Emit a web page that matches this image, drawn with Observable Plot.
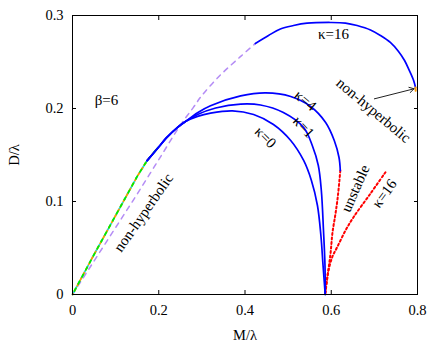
<!DOCTYPE html>
<html><head><meta charset="utf-8">
<script src="https://cdn.jsdelivr.net/npm/d3@7"></script>
<script src="https://cdn.jsdelivr.net/npm/@observablehq/plot@0.6"></script>
<style>body{margin:0;background:#fff} svg text{font-family:"Liberation Serif","Times New Roman",serif !important;}</style>
</head><body><div id="chart"></div>
<script>
const xTicks = [0, 0.2, 0.4, 0.6, 0.8];
const yTicks = [0, 0.1, 0.2, 0.3];

// shared stable (hyperbolic) start of the small-kappa branches
const sharedStart = [[0.173,0.144],[0.197,0.157],[0.220,0.1695],[0.243,0.1795],[0.262,0.1860]];
const kappa0 = [[0.290,0.1915],[0.320,0.1950],[0.371,0.1975],[0.420,0.1935],[0.466,0.1828],[0.506,0.1656],[0.536,0.1441],[0.554,0.1226],[0.568,0.0957],[0.576,0.0634],[0.581,0.0312],[0.586,0]];
const kappa1 = [[0.290,0.1935],[0.332,0.2005],[0.390,0.2048],[0.436,0.2038],[0.489,0.1957],[0.536,0.1796],[0.556,0.1602],[0.570,0.1387],[0.577,0.1118],[0.582,0.0688],[0.5855,0.031],[0.586,0]];
const kappa4 = [[0.290,0.1955],[0.320,0.2030],[0.390,0.2135],[0.448,0.2167],[0.506,0.2129],[0.552,0.2022],[0.587,0.185],[0.607,0.1656],[0.618,0.1473],[0.621,0.1333]];
const kappa16 = [[0.424,0.2699],[0.4545,0.2785],[0.482,0.2855],[0.5125,0.2892],[0.544,0.2917],[0.598,0.2925],[0.633,0.2919],[0.660,0.2892],[0.691,0.2844],[0.714,0.2785],[0.737,0.271],[0.756,0.2613],[0.770,0.2516],[0.781,0.2409],[0.791,0.2301],[0.7954,0.2226]];
const kappa16NonHypEnd = [[0.7954,0.2226],[0.7958,0.219]];
const kappa16NonHyp = [[0,0],[0.05,0.036],[0.1,0.072],[0.15,0.108],[0.2,0.145],[0.25,0.182],[0.28,0.201],[0.30,0.214],[0.343,0.236],[0.39,0.256],[0.424,0.2699]];
const smallKappaNonHyp = [[0,0],[0.05,0.043],[0.1,0.085],[0.15,0.127],[0.173,0.144],[0.2,0.159]];
const unstable4 = [[0.621,0.1333],[0.6155,0.1065],[0.6099,0.0871],[0.6029,0.0667],[0.5983,0.0441],[0.5925,0.0237],[0.586,0]];
const unstable16 = [[0.7258,0.1315],[0.691,0.1086],[0.6516,0.0831],[0.633,0.0688],[0.6138,0.0509],[0.6029,0.0409],[0.5936,0.0258],[0.589,0.0129],[0.586,0]];

const labels = [
  {x:0.0788, y:0.2086, text:"β=6", rotate:0},
  {x:0.4475, y:0.169, text:"κ=0", rotate:45},
  {x:0.536, y:0.180, text:"κ=1", rotate:47},
  {x:0.540, y:0.2086, text:"κ=4", rotate:40},
  {x:0.605, y:0.2800, text:"κ=16", rotate:0},
  {x:0.698, y:0.198, text:"non-hyperbolic", rotate:40},
  {x:0.165, y:0.088, text:"non-hyperbolic", rotate:-55},
  {x:0.656, y:0.114, text:"unstable", rotate:-66},
  {x:0.7235, y:0.1086, text:"κ=16", rotate:-54}
];
const arrowData = [{x1:0.700, y1:0.2104, x2:0.792, y2:0.2212}];

const blue = "#0000ff", purple = "#b48cf5", red = "#ff0000";
const serif = "'Liberation Serif', 'Times New Roman', serif";
const fmt = d => String(d);

const chart = Plot.plot({
  width: 444, height: 342,
  marginLeft: 72, marginRight: 27, marginTop: 15, marginBottom: 48,
  x: {domain: [0, 0.8]},
  y: {domain: [0, 0.3]},
  style: {fontFamily: serif, fontSize: "14px", color: "black", background: "white"},
  marks: [
    Plot.axisX({ticks: xTicks, tickSize: -4, tickPadding: 14, tickFormat: fmt, label: "M/λ", labelArrow: false, labelAnchor: "center", labelOffset: 45, fontSize: 14.5, fontFamily: serif}),
    Plot.axisX({anchor: "top", ticks: xTicks, tickSize: -4, tickFormat: () => "", label: null}),
    Plot.axisY({ticks: yTicks, tickSize: -4, tickPadding: 13, tickFormat: fmt, label: "D/λ", labelArrow: false, labelAnchor: "center", labelOffset: 64, fontSize: 14.5, fontFamily: serif}),
    Plot.axisY({anchor: "right", ticks: yTicks, tickSize: -4, tickFormat: () => "", label: null}),
    Plot.line(kappa16NonHyp, {stroke: purple, strokeWidth: 1.5, strokeDasharray: "5,5", curve: "catmull-rom"}),
    Plot.line(smallKappaNonHyp, {stroke: "#00e0ff", strokeWidth: 1.8, strokeDasharray: "3,3"}),
    Plot.line(smallKappaNonHyp, {stroke: "#ff9900", strokeWidth: 1.8, strokeDasharray: "3,3", strokeDashoffset: 2}),
    Plot.line(smallKappaNonHyp, {stroke: "#00ee00", strokeWidth: 1.8, strokeDasharray: "3,5", strokeDashoffset: 4}),
    Plot.line(unstable4, {stroke: red, strokeWidth: 2, strokeDasharray: "2,2.5", curve: "catmull-rom"}),
    Plot.line(unstable16, {stroke: red, strokeWidth: 2, strokeDasharray: "2,2.5", curve: "catmull-rom"}),
    Plot.line(sharedStart.concat(kappa0), {stroke: blue, strokeWidth: 1.7, curve: "catmull-rom"}),
    Plot.line(sharedStart.concat(kappa1), {stroke: blue, strokeWidth: 1.7, curve: "catmull-rom"}),
    Plot.line(sharedStart.concat(kappa4), {stroke: blue, strokeWidth: 1.7, curve: "catmull-rom"}),
    Plot.line(kappa16, {stroke: blue, strokeWidth: 1.7, curve: "catmull-rom"}),
    Plot.line(kappa16NonHypEnd, {stroke: "#ff9900", strokeWidth: 2}),
    Plot.arrow(arrowData, {x1: "x1", y1: "y1", x2: "x2", y2: "y2", stroke: "#222", strokeWidth: 1, headLength: 8}),
    Plot.text(labels, {x: "x", y: "y", text: "text", rotate: "rotate", fill: "black", fontSize: 15, fontFamily: serif}),
    Plot.frame({stroke: "black", strokeWidth: 1})
  ]
});
document.getElementById("chart").appendChild(chart);
</script>
</body></html>
